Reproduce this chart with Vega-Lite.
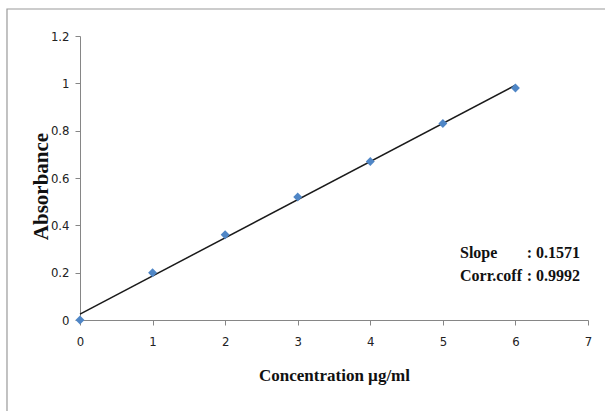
{
  "$schema": "https://vega.github.io/schema/vega-lite/v6.json",
  "width": 508,
  "height": 284,
  "padding": {"left": 80, "top": 36, "right": 17, "bottom": 91},
  "autosize": {"type": "none"},
  "background": "white",
  "config": {"view": {"stroke": null}},
  "datasets": {
    "points": [
      {"conc": 0, "abs": 0},
      {"conc": 1, "abs": 0.2},
      {"conc": 2, "abs": 0.36},
      {"conc": 3, "abs": 0.52},
      {"conc": 4, "abs": 0.67},
      {"conc": 5, "abs": 0.83},
      {"conc": 6, "abs": 0.98}
    ],
    "trend": [
      {"conc": 0, "abs": 0.025},
      {"conc": 6, "abs": 0.992}
    ],
    "frame": [
      {"x1": -1.006, "x2": 7.3, "y1": 1.314, "y2": -0.42}
    ],
    "notes": [
      {"label": "Slope", "value": ": 0.1571", "conc": 5.236, "end": 6.89, "abs": 0.283},
      {"label": "Corr.coff", "value": ": 0.9992", "conc": 5.236, "end": 6.89, "abs": 0.186}
    ]
  },
  "layer": [
    {
      "data": {"name": "trend"},
      "mark": {"type": "line", "color": "#1a1a1a", "strokeWidth": 1.5, "clip": false},
      "encoding": {
        "x": {"field": "conc", "type": "quantitative", "scale": {"domain": [0, 7], "nice": false},
          "axis": {"title": "Concentration µg/ml", "values": [0,1,2,3,4,5,6,7], "format": "~g", "grid": false, "labelFlush": false,
            "domainColor": "#868686", "tickColor": "#868686", "tickSize": 5,
            "labelFont": "DejaVu Sans Condensed", "labelFontSize": 13, "labelColor": "#222", "labelPadding": 10,
            "titleFont": "Liberation Serif", "titleFontSize": 17, "titleFontWeight": "bold", "titleColor": "#111", "titlePadding": 19}},
        "y": {"field": "abs", "type": "quantitative", "scale": {"domain": [0, 1.2], "nice": false},
          "axis": {"title": "Absorbance", "values": [0,0.2,0.4,0.6,0.8,1,1.2], "format": "~g", "grid": false, "labelFlush": false,
            "domainColor": "#868686", "tickColor": "#868686", "tickSize": 5,
            "labelFont": "DejaVu Sans Condensed", "labelFontSize": 13, "labelColor": "#222", "labelPadding": 6,
            "titleFont": "Liberation Serif", "titleFontSize": 21, "titleFontWeight": "bold", "titleColor": "#111",
            "titleX": -39, "titleY": 150, "titleAlign": "center", "titleBaseline": "middle", "titleAngle": 270}}
      }
    },
    {
      "data": {"name": "frame"},
      "mark": {"type": "rect", "fill": "transparent", "stroke": "#9a9a9a", "strokeWidth": 1.2, "clip": false},
      "encoding": {
        "x": {"field": "x1", "type": "quantitative"},
        "x2": {"field": "x2"},
        "y": {"field": "y1", "type": "quantitative"},
        "y2": {"field": "y2"}
      }
    },
    {
      "data": {"name": "points"},
      "mark": {"type": "point", "shape": "diamond", "filled": true, "color": "#4f86c6", "size": 80, "opacity": 1, "clip": false},
      "encoding": {
        "x": {"field": "conc", "type": "quantitative"},
        "y": {"field": "abs", "type": "quantitative"}
      }
    },
    {
      "data": {"name": "notes"},
      "mark": {"type": "text", "align": "left", "baseline": "middle", "font": "Liberation Serif", "fontSize": 16, "fontWeight": "bold", "color": "#111"},
      "encoding": {
        "x": {"field": "conc", "type": "quantitative"},
        "y": {"field": "abs", "type": "quantitative"},
        "text": {"field": "label"}
      }
    },
    {
      "data": {"name": "notes"},
      "mark": {"type": "text", "align": "right", "baseline": "middle", "font": "Liberation Serif", "fontSize": 16, "fontWeight": "bold", "color": "#111"},
      "encoding": {
        "x": {"field": "end", "type": "quantitative"},
        "y": {"field": "abs", "type": "quantitative"},
        "text": {"field": "value"}
      }
    }
  ]
}
